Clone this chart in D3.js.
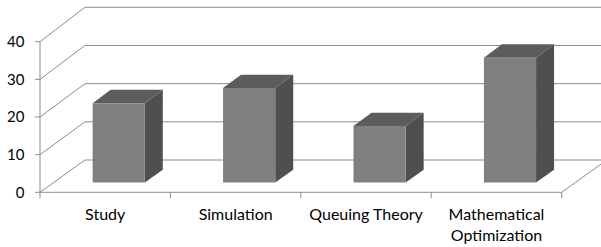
<!DOCTYPE html>
<html><head><meta charset="utf-8">
<script src="https://d3js.org/d3.v7.min.js"></script>
<style>html,body{margin:0;padding:0;background:#fff;}svg{display:block;}</style>
</head><body>
<script>
const categories = ["Study", "Simulation", "Queuing Theory", "Mathematical Optimization"];
const values = [21, 25, 15, 33];
const yTicks = [0, 10, 20, 30, 40];

const W = 601, H = 247;
const svg = d3.select("body").append("svg").attr("width", W).attr("height", H);

const x = d3.scaleBand().domain(categories).range([40, 561.7]).padding(0);
// value scale at front (t=0) and back (t=1) planes
const yFront = d3.scaleLinear().domain([0, 40]).range([192.3, 41.7]);
const yBack = d3.scaleLinear().domain([0, 40]).range([160, 7.3]);
const DX = 45;
function P(px, v, t) {
  return [px + t * DX, yFront(v) + t * (yBack(v) - yFront(v))];
}
const gridColor = "#8c8c8c";
const g = svg.append("g");

// back wall gridlines
yTicks.forEach(v => {
  const a = P(40, v, 1), b = P(561.7, v, 1);
  g.append("line").attr("x1", a[0]).attr("y1", a[1]).attr("x2", b[0]).attr("y2", b[1])
    .attr("stroke", gridColor).attr("stroke-width", 1);
  const c = P(40, v, 0);
  g.append("line").attr("x1", c[0]).attr("y1", c[1]).attr("x2", a[0]).attr("y2", a[1])
    .attr("stroke", gridColor).attr("stroke-width", 1);
});
// floor right edge
{
  const a = P(561.7, 0, 0), b = P(561.7, 0, 1);
  g.append("line").attr("x1", a[0]).attr("y1", a[1]).attr("x2", b[0]).attr("y2", b[1])
    .attr("stroke", gridColor).attr("stroke-width", 1);
}
// front axis lines
{
  const a = P(40, 0, 0), b = P(561.7, 0, 0), c = P(40, 40, 0);
  g.append("line").attr("x1", a[0]).attr("y1", a[1]).attr("x2", b[0]).attr("y2", b[1])
    .attr("stroke", gridColor).attr("stroke-width", 1);
  g.append("line").attr("x1", a[0]).attr("y1", a[1]).attr("x2", c[0]).attr("y2", c[1])
    .attr("stroke", gridColor).attr("stroke-width", 1);
}
// y ticks
yTicks.forEach(v => {
  const p = P(40, v, 0);
  g.append("line").attr("x1", p[0] - 5).attr("y1", p[1]).attr("x2", p[0]).attr("y2", p[1])
    .attr("stroke", gridColor);
  g.append("text").attr("x", 24.5).attr("y", p[1]).attr("dy", "0.36em")
    .attr("text-anchor", "end").attr("font-family", "Lato, sans-serif")
    .attr("font-size", 15).attr("fill", "#000").text(v);
});
// x ticks
const xTickPos = categories.map(c => x(c)).concat([x.range()[1]]);
xTickPos.forEach(px => {
  const p = P(px, 0, 0);
  g.append("line").attr("x1", p[0]).attr("y1", p[1]).attr("x2", p[0]).attr("y2", p[1] + 6)
    .attr("stroke", gridColor);
});
// x labels
categories.forEach(c => {
  const cx = x(c) + x.bandwidth() / 2;
  const words = c === "Mathematical Optimization" ? ["Mathematical", "Optimization"] : [c];
  const t = g.append("text").attr("x", cx).attr("y", 220).attr("text-anchor", "middle")
    .attr("font-family", "Lato, sans-serif").attr("font-size", 16).attr("fill", "#000");
  words.forEach((w, i) => t.append("tspan").attr("x", cx).attr("y", 220 + i * 20.5).text(w));
});
// bars
const t0 = 0.3, t1 = 0.7;
const poly = pts => pts.map(p => p.join(",")).join(" ");
categories.forEach((c, i) => {
  const v = values[i];
  const xl = x(c) + x.bandwidth() * 0.3, xr = x(c) + x.bandwidth() * 0.7;
  // side face
  g.append("polygon").attr("points", poly([P(xr, 0, t0), P(xr, 0, t1), P(xr, v, t1), P(xr, v, t0)]))
    .attr("fill", "#4f4f4f");
  // top face
  g.append("polygon").attr("points", poly([P(xl, v, t0), P(xl, v, t1), P(xr, v, t1), P(xr, v, t0)]))
    .attr("fill", "#5c5c5c");
  // front face
  g.append("polygon").attr("points", poly([P(xl, 0, t0), P(xr, 0, t0), P(xr, v, t0), P(xl, v, t0)]))
    .attr("fill", "#808080");
});
</script>
</body></html>
